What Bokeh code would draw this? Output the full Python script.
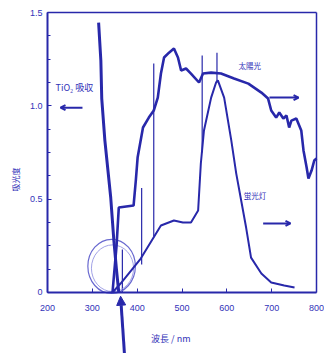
from bokeh.plotting import figure
from bokeh.models import Range1d, Arrow, NormalHead, OpenHead, Label, FixedTicker, LinearAxis
from bokeh.embed import file_html
from bokeh.resources import INLINE

# ---- data ----
tio2_nm = [314, 319, 321, 328, 341, 348, 354, 359]
tio2_abs = [1.446, 1.243, 1.039, 0.814, 0.509, 0.279, 0.118, 0.0]

sun_nm = [345, 354, 359, 392, 397, 401, 413, 426, 437, 446, 453, 460, 471, 482, 491,
          498, 509, 520, 538, 547, 565, 587, 616, 648, 677, 692, 699, 710, 717, 726,
          733, 739, 744, 755, 766, 771, 778, 782, 789, 795, 800]
sun_val = [0.0, 0.25, 0.455, 0.466, 0.60, 0.723, 0.884, 0.937, 0.975, 1.044, 1.173,
           1.259, 1.285, 1.307, 1.259, 1.189, 1.200, 1.173, 1.125, 1.173, 1.178, 1.173,
           1.146, 1.119, 1.071, 1.039, 0.975, 0.937, 0.964, 0.932, 0.948, 0.884, 0.921,
           0.932, 0.868, 0.761, 0.670, 0.611, 0.653, 0.707, 0.718]

fl_nm = [345, 363, 408, 453, 482, 502, 520, 536, 542, 549, 565, 576, 580, 594, 610,
         621, 632, 643, 654, 677, 699, 728, 751]
fl_val = [0.0, 0.048, 0.182, 0.359, 0.386, 0.375, 0.375, 0.439, 0.691, 0.868, 1.044,
          1.125, 1.136, 1.044, 0.814, 0.637, 0.493, 0.348, 0.187, 0.102, 0.054, 0.037,
          0.027]

hg_nm = [367, 410, 437, 545, 578]
hg_base = [0.0, 0.15, 0.30, 0.75, 1.13]
hg_top = [0.23, 0.56, 1.227, 1.269, 1.285]

x_ticks = [200, 300, 400, 500, 600, 700, 800]
y_ticks = [0, 0.5, 1.0, 1.5]
y_tick_labels = {0: "0", 0.5: "0.5", 1.0: "1.0", 1.5: "1.5"}

BLUE = "#2828aa"
TXT = "#3232b8"
CJK = "Noto Sans CJK JP"
NUMF = "Liberation Sans"

# frame covers the whole canvas; axes are drawn at fixed data locations
p = figure(width=324, height=353, x_range=Range1d(95.17, 817.84), y_range=Range1d(-0.3268, 1.5643),
           output_backend="svg", toolbar_location=None, x_axis_location=None,
           y_axis_location=None, min_border=0)
p.title.visible = False
p.grid.visible = False
p.outline_line_color = None
p.background_fill_color = "white"
p.border_fill_color = "white"

xax = LinearAxis(fixed_location=0, bounds=(200, 800), ticker=FixedTicker(ticks=x_ticks))
yax = LinearAxis(fixed_location=200, bounds=(0, 1.5),
                 ticker=FixedTicker(ticks=y_ticks, minor_ticks=[i * 0.125 for i in range(13)]),
                 major_label_overrides=y_tick_labels)
p.add_layout(xax, "below")
p.add_layout(yax, "left")

for ax in (xax, yax):
    ax.axis_line_color = BLUE
    ax.axis_line_width = 2
    ax.major_tick_line_color = BLUE
    ax.minor_tick_line_color = BLUE
    ax.major_tick_in = 4
    ax.major_tick_out = 0
    ax.minor_tick_in = 3
    ax.minor_tick_out = 0
    ax.major_label_text_color = TXT
    ax.major_label_text_font = NUMF
    ax.major_label_text_font_size = "9px"
xax.major_label_standoff = 13
yax.major_label_standoff = 5

top_ax = LinearAxis(fixed_location=1.5, bounds=(200, 800), ticker=FixedTicker(ticks=[]),
                    axis_line_color=BLUE, axis_line_width=1.5)
p.add_layout(top_ax, "above")
right_ax = LinearAxis(fixed_location=800, ticker=FixedTicker(ticks=[]), bounds=(0, 1.5),
                      axis_line_color=BLUE, axis_line_width=1.5)
p.add_layout(right_ax, "right")

# mercury emission lines
p.segment(x0=hg_nm, y0=hg_base, x1=hg_nm, y1=hg_top, line_color=BLUE, line_width=1.2)

# highlight circle
p.ellipse(x=[343], y=[0.14], width=[106], height=[0.29], fill_color=None,
          line_color="#6a6ad0", line_width=1.2)
p.ellipse(x=[345], y=[0.13], width=[94], height=[0.25], fill_color=None,
          line_color="#8a8ae0", line_width=0.8)

p.line(fl_nm, fl_val, line_color=BLUE, line_width=2)
p.line(sun_nm, sun_val, line_color=BLUE, line_width=2.6)
p.line(tio2_nm, tio2_abs, line_color=BLUE, line_width=3)

# arrow below the axis pointing to the absorption edge
p.add_layout(Arrow(x_start=372, y_start=-0.34, x_end=363, y_end=-0.02,
                   line_color=BLUE, line_width=3,
                   end=NormalHead(size=9, fill_color=BLUE, line_color=BLUE)))

# direction arrows
arrow_kw = dict(line_color=BLUE, line_width=2)
p.add_layout(Arrow(x_start=278, y_start=0.99, x_end=229, y_end=0.99,
                   end=OpenHead(size=5, line_color=BLUE, line_width=2), **arrow_kw))
p.add_layout(Arrow(x_start=695, y_start=1.044, x_end=760, y_end=1.044,
                   end=OpenHead(size=5, line_color=BLUE, line_width=2), **arrow_kw))
p.add_layout(Arrow(x_start=681, y_start=0.37, x_end=742, y_end=0.37,
                   end=OpenHead(size=5, line_color=BLUE, line_width=2), **arrow_kw))

lab_kw = dict(text_color=TXT, text_font=CJK, text_baseline="middle")
p.add_layout(Label(x=218, y=1.098, text="TiO₂ 吸収", text_font_size="9px", **lab_kw))
p.add_layout(Label(x=626, y=1.216, text="太陽光", text_font_size="7.5px", **lab_kw))
p.add_layout(Label(x=638, y=0.52, text="蛍光灯", text_font_size="7.5px", **lab_kw))
p.add_layout(Label(x=475, y=-0.246, text="波長 / nm", text_align="center",
                   text_font_size="9px", **lab_kw))
p.add_layout(Label(x=128, y=0.605, text="吸光度", angle=1.5708, text_align="center",
                   text_font_size="8px", **lab_kw))

open("out.html", "w").write(file_html(p, INLINE))
